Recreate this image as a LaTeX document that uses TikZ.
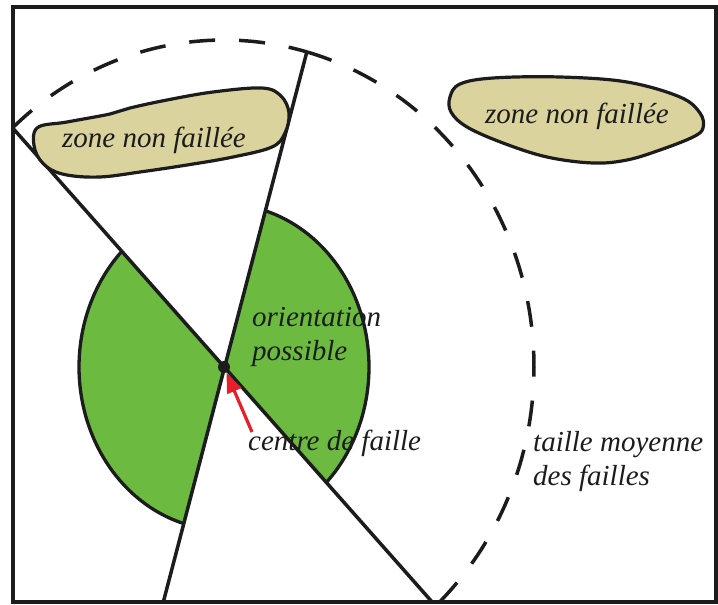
\documentclass[tikz,border=0pt]{standalone}
\usepackage{fontspec}
\setmainfont{Liberation Serif}
\usetikzlibrary{arrows.meta,calc}
\definecolor{vert}{RGB}{108,187,64}
\definecolor{beige}{RGB}{218,211,158}
\definecolor{rouge}{RGB}{232,30,40}
\definecolor{encre}{RGB}{28,28,28}
\begin{document}
\begin{tikzpicture}[x=1pt,y=-1pt,
  trait/.style={line width=3.5pt, draw=encre},
  bord/.style={line width=3.3pt, draw=encre},
  tirets/.style={line width=3.5pt, draw=encre, dash pattern=on 26pt off 24pt},
  blob/.style={fill=beige, draw=encre, line width=3.2pt},
  lbl/.style={font=\fontsize{29}{34}\selectfont\itshape, text=encre, inner sep=0pt, anchor=base west, align=left}]
\useasboundingbox (0,0) rectangle (718,605);
\coordinate (C) at (224,367);
% line end points
\coordinate (L1a) at ($(C)+(-133:310 and 327)$);
\coordinate (L2a) at ($(C)+(-74.5:310 and 327)$);
\coordinate (L1b) at ($(C)+(209*1.1,236*1.1)$);
\coordinate (L2b) at ($(C)+(-61*1.1,236*1.1)$);
\begin{scope}
\clip (13,7) rectangle (716,602);
% green double wedge
\fill[vert] (C) -- plot[domain=-73.6:45.1, samples=80] ({224+145*cos(\x)}, {367+163*sin(\x)}) -- cycle;
\fill[vert] (C) -- plot[domain=106.2:225.2, samples=80] ({224+145*cos(\x)}, {367+163*sin(\x)}) -- cycle;
\draw[bord] plot[domain=-73.6:45.1, samples=80] ({224+145*cos(\x)}, {367+163*sin(\x)});
\draw[bord] plot[domain=106.2:225.2, samples=80] ({224+145*cos(\x)}, {367+163*sin(\x)});
% fault planes
\draw[trait, line join=miter] (L1a) -- (L1b);
\draw[trait] (L2a) -- (L2b);
% mean fault size
\draw[tirets] plot[domain=-133:-74.5, samples=80] ({224+310*cos(\x)}, {367+327*sin(\x)});
\draw[tirets] plot[domain=-74.5:60, samples=120] ({224+310*cos(\x)}, {367+327*sin(\x)});
\end{scope}
% unfaulted zones
\draw[blob] plot[smooth cycle, tension=0.6] coordinates {(37,128) (67,122) (110,114) (130,108) (167,100) (213,92) (262,88) (281,96) (289,113) (285,133) (272,147) (233,157) (187,165) (140,172) (100,177) (67,175) (47,167) (35,150)};
\draw[blob] plot[smooth cycle, tension=0.6] coordinates {(450,97) (460,84) (493,78) (560,77) (627,82) (680,97) (700,113) (703,128) (693,137) (660,150) (627,160) (593,163) (547,157) (503,143) (467,127) (451,112)};
% frame
\draw[line width=3.4pt, draw=encre] (13,7) rectangle (716,602);
% labels
\node[lbl] (t1) at (62,147) {zone non faillée};
\node[lbl] (t2) at (485,123) {zone non faillée};
\node[lbl] (t3) at (252,360) {orientation\\possible};
\node[lbl] (t4) at (248,450) {centre de faille};
\node[lbl] (t5) at (533,485) {taille moyenne\\des failles};
% fault centre
\node[circle, fill=encre, inner sep=0pt, minimum size=12pt] (ctr) at (C) {};
\coordinate (fl) at (252,432);
\draw[rouge, line width=3.2pt, -{Triangle[length=20pt,width=15pt]}] (fl) -- (ctr);
\end{tikzpicture}
\end{document}
